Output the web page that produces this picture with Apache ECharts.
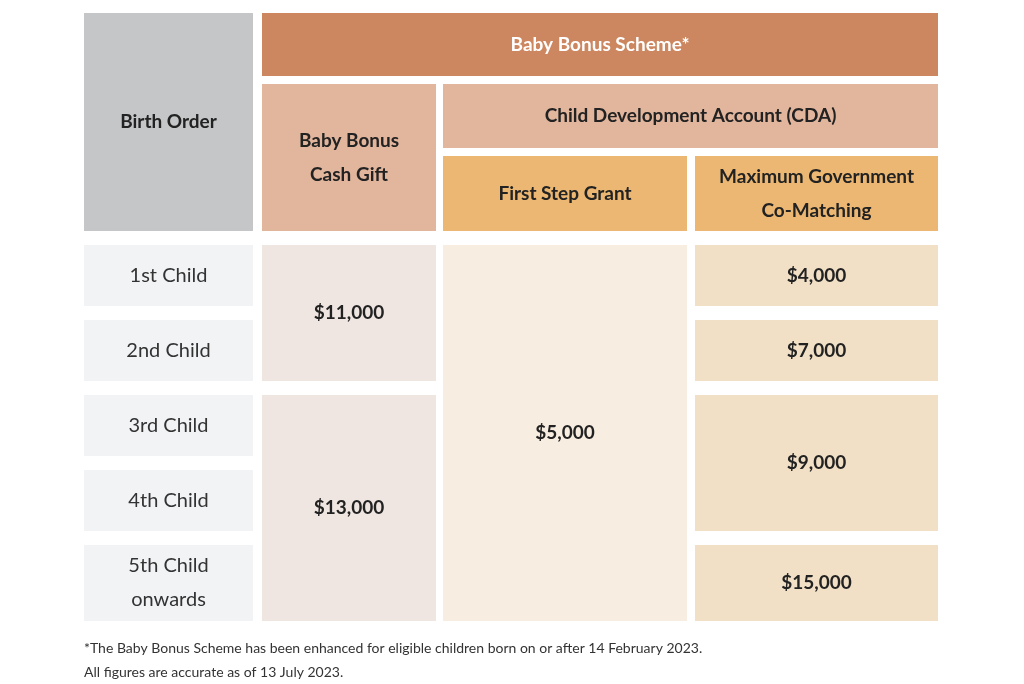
<!DOCTYPE html>
<html>
<head>
<meta charset="utf-8">
<script src="https://cdn.jsdelivr.net/npm/echarts@6/dist/echarts.min.js"></script>
<style>html,body{margin:0;background:#fff}#chart{width:1024px;height:684px}</style>
</head>
<body>
<div id="chart"></div>
<script>
// column and row edges of the table (page units)
var colEdges = [[84, 253], [262, 436], [443, 687], [695, 938]];
var headRows = [[13, 76], [84, 148], [156, 231]];
var bodyRows = [[245, 306], [320, 381], [395, 456], [470, 531], [545, 621]];

var birthOrder = ['1st Child', '2nd Child', '3rd Child', '4th Child', '5th Child\nonwards'];
var cashGift = ['$11,000', '$13,000'];          // rows 1-2, rows 3-5
var firstStep = '$5,000';                        // all rows
var coMatching = ['$4,000', '$7,000', '$9,000', '$15,000']; // rows 1,2,3-4,5

var C = {
    top: '#cd8760', gray: '#c5c6c8', peach: '#e2b59d', orange: '#ebb772',
    b0: '#f2f3f5', b1: '#efe6e2', b2: '#f8ede1', b3: '#f1e0c6'
};

// [colFrom, colTo, rowFrom, rowTo (body rows) | header] -> cell
var cells = [];
function cell(c0, c1, y0, y1, text, fill, color, bold) {
    cells.push([colEdges[c0][0], colEdges[c1][1], y0, y1, text, fill, color, bold ? 1 : 0]);
}
cell(1, 3, headRows[0][0], headRows[0][1], 'Baby Bonus Scheme*', C.top, '#fff', true);
cell(0, 0, headRows[0][0], headRows[2][1], 'Birth Order', C.gray, '#222', true);
cell(1, 1, headRows[1][0], headRows[2][1], 'Baby Bonus\nCash Gift', C.peach, '#222', true);
cell(2, 3, headRows[1][0], headRows[1][1], 'Child Development Account (CDA)', C.peach, '#222', true);
cell(2, 2, headRows[2][0], headRows[2][1], 'First Step Grant', C.orange, '#222', true);
cell(3, 3, headRows[2][0], headRows[2][1], 'Maximum Government\nCo-Matching', C.orange, '#222', true);
birthOrder.forEach(function (t, i) { cell(0, 0, bodyRows[i][0], bodyRows[i][1], t, C.b0, '#333', false); });
cell(1, 1, bodyRows[0][0], bodyRows[1][1], cashGift[0], C.b1, '#222', true);
cell(1, 1, bodyRows[2][0], bodyRows[4][1], cashGift[1], C.b1, '#222', true);
cell(2, 2, bodyRows[0][0], bodyRows[4][1], firstStep, C.b2, '#222', true);
cell(3, 3, bodyRows[0][0], bodyRows[0][1], coMatching[0], C.b3, '#222', true);
cell(3, 3, bodyRows[1][0], bodyRows[1][1], coMatching[1], C.b3, '#222', true);
cell(3, 3, bodyRows[2][0], bodyRows[3][1], coMatching[2], C.b3, '#222', true);
cell(3, 3, bodyRows[4][0], bodyRows[4][1], coMatching[3], C.b3, '#222', true);

var chart = echarts.init(document.getElementById('chart'), null, { renderer: 'canvas' });
var option = {
    animation: false,
    grid: { left: 0, right: 0, top: 0, bottom: 0 },
    xAxis: { type: 'value', min: 0, max: 1024, show: false },
    yAxis: { type: 'value', min: 0, max: 684, inverse: true, show: false },
    graphic: [{
        type: 'text', left: 84, top: 636,
        style: {
            text: '*The Baby Bonus Scheme has been enhanced for eligible children born on or after 14 February 2023.\nAll figures are accurate as of 13 July 2023.',
            font: '14px Lato', fill: '#333', lineHeight: 24
        }
    }],
    series: [{
        type: 'custom',
        data: cells,
        renderItem: function (params, api) {
            var p0 = api.coord([api.value(0), api.value(2)]);
            var p1 = api.coord([api.value(1), api.value(3)]);
            var d = cells[params.dataIndex];
            return {
                type: 'rect',
                shape: { x: p0[0], y: p0[1], width: p1[0] - p0[0], height: p1[1] - p0[1] },
                style: { fill: d[5] },
                textContent: {
                    style: {
                        text: d[4], fill: d[6], align: 'center', lineHeight: 34,
                        font: (d[7] ? 'bold 19px' : '20px') + ' Lato'
                    }
                },
                textConfig: { position: 'inside' }
            };
        }
    }]
};
chart.setOption(option);
window.addEventListener('resize', chart.resize);
</script>
</body>
</html>
